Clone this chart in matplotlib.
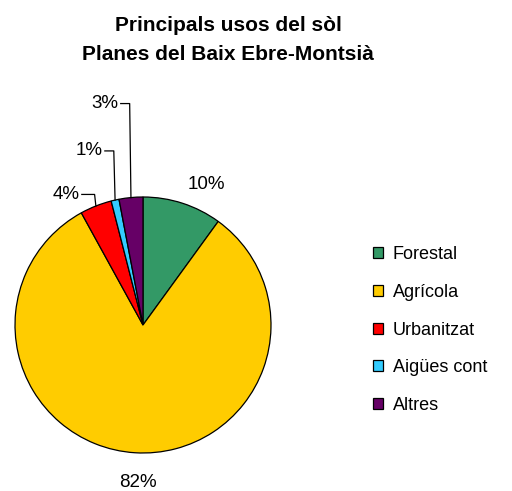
import numpy as np
import matplotlib
matplotlib.use("Agg")
import matplotlib.pyplot as plt

plt.rcParams['font.family'] = ['Liberation Sans', 'DejaVu Sans']

title = "Principals usos del sòl\nPlanes del Baix Ebre-Montsià"
categories = ["Forestal", "Agrícola", "Urbanitzat", "Aigües cont", "Altres"]
values = [10, 82, 4, 1, 3]
pct_labels = ["10%", "82%", "4%", "1%", "3%"]
colors = ["#339966", "#FFCC00", "#FF0000", "#33CCFF", "#660066"]

fig = plt.figure(figsize=(5.12, 4.91), dpi=100)
W, H = 512, 491
cx, cy, rad = 143, 325, 128
ax = fig.add_axes([(cx - rad) / W, (H - cy - rad) / H, 2 * rad / W, 2 * rad / H])

wedges, _ = ax.pie(values, colors=colors, startangle=90, counterclock=False,
                   wedgeprops=dict(edgecolor="black", linewidth=0.9))
ax.set_xlim(-1, 1)
ax.set_ylim(-1, 1)
ax.set_aspect("equal")
ax.axis("off")

# big slices: label outside at the mid angle
big = {0: (1.22, 0.12, -0.06), 1: (1.23, 0.04, 0.0)}
for i, (r, ox, oy) in big.items():
    w = wedges[i]
    a = np.deg2rad((w.theta1 + w.theta2) / 2)
    ax.text(r * np.cos(a) + ox, r * np.sin(a) + oy, pct_labels[i], ha="center", va="center",
            fontsize=13.5, clip_on=False)

# small slices: leader lines
levels = {2: (1.02, 0.1), 3: (1.36, 0.07), 4: (1.73, 0.07)}
for i, (ly, dx) in levels.items():
    w = wedges[i]
    a = np.deg2rad((w.theta1 + w.theta2) / 2)
    ex, ey = np.cos(a), np.sin(a)
    ax.plot([ex, ex - 0.01, ex - 0.01 - dx], [ey, ly, ly], color="black", lw=0.9, clip_on=False)
    ax.text(ex - 0.03 - dx, ly, pct_labels[i], ha="right", va="center", fontsize=13.5,
            clip_on=False)

fig.text(228 / W, 1 - 40 / H, title, ha="center", va="center", fontsize=15,
         fontweight="bold", linespacing=1.65)

fig.legend(wedges, categories, loc="upper left", bbox_to_anchor=(364 / W, 1 - 237 / H),
           frameon=False, fontsize=13, handlelength=0.55, handleheight=0.55,
           handletextpad=0.55, labelspacing=1.15, borderpad=0)

fig.savefig("out.png", dpi=100)
